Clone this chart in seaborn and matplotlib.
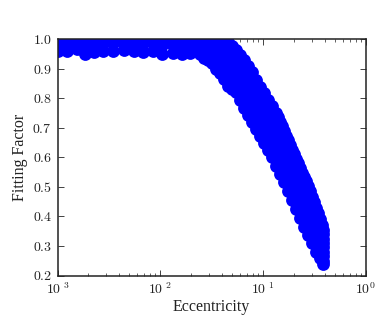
import matplotlib
matplotlib.use("Agg")
import matplotlib.pyplot as plt
import pandas as pd
import seaborn as sns
from matplotlib.ticker import FixedLocator, FixedFormatter, NullFormatter

# Flat part of the cloud: eccentricity and the lowest fitting factor at each
flat_ecc = [0.001, 0.00125, 0.00156, 0.00185, 0.00225, 0.0028, 0.0035, 0.0044, 0.0055,
            0.0068, 0.0085, 0.0105, 0.0132, 0.0165, 0.0195]
flat_low = [0.960, 0.958, 0.966, 0.950, 0.956, 0.959, 0.958, 0.963, 0.958,
            0.957, 0.959, 0.950, 0.952, 0.950, 0.953]
flat_mid = [0.985, 0.985, 0.985, 0.98, 0.98, 0.985, 0.985, 0.985, 0.985,
            0.985, 0.985, 0.98, 0.98, 0.98, 0.98]
flat_top = [1.0, 1.0, 1.0, 1.0, 1.0, 1.0, 1.0, 1.0, 1.0,
            1.0, 1.0, 1.0, 1.0, 1.0, 1.0]

# Falling part of the cloud: fitting factors read per eccentricity column
fall_ecc = [0.0223, 0.0267, 0.0319, 0.0382, 0.0457, 0.0547, 0.0655, 0.0783, 0.0938,
            0.1122, 0.134, 0.160, 0.192, 0.230, 0.275, 0.329, 0.389]
fall_ff = [
    [1.0, 0.98, 0.963],
    [1.0, 0.97, 0.936],
    [1.0, 0.97, 0.94, 0.919],
    [0.997, 0.965, 0.935, 0.905, 0.885],
    [0.99, 0.96, 0.93, 0.90, 0.87, 0.841],
    [0.963, 0.935, 0.905, 0.875, 0.845, 0.821],
    [0.929, 0.90, 0.87, 0.84, 0.81, 0.785, 0.767],
    [0.888, 0.86, 0.83, 0.80, 0.77, 0.745, 0.719],
    [0.838, 0.81, 0.78, 0.75, 0.72, 0.695, 0.672],
    [0.794, 0.765, 0.735, 0.705, 0.675, 0.65, 0.625],
    [0.75, 0.72, 0.69, 0.66, 0.63, 0.60, 0.57],
    [0.689, 0.66, 0.63, 0.60, 0.57, 0.54, 0.516],
    [0.625, 0.595, 0.565, 0.535, 0.505, 0.48, 0.455],
    [0.564, 0.535, 0.505, 0.475, 0.445, 0.42, 0.394],
    [0.503, 0.475, 0.445, 0.415, 0.385, 0.36, 0.337],
    [0.428, 0.40, 0.37, 0.34, 0.31, 0.28],
    [0.354, 0.34, 0.325, 0.31, 0.295, 0.28, 0.265, 0.25, 0.239],
]

# Columns read between the ones above
between_ecc = [0.0244, 0.0292, 0.0349, 0.0418, 0.05, 0.0599, 0.0716, 0.0857,
               0.1026, 0.1226, 0.1464, 0.175, 0.21, 0.2515, 0.3008, 0.3578]
between_ff = [
    [1.0, 0.95],
    [1.0, 0.96, 0.928],
    [1.0, 0.95, 0.90],
    [0.995, 0.93, 0.865],
    [0.978, 0.90, 0.83],
    [0.945, 0.87, 0.795],
    [0.91, 0.825, 0.742],
    [0.863, 0.78, 0.695],
    [0.816, 0.73, 0.648],
    [0.772, 0.685, 0.60],
    [0.72, 0.63, 0.543],
    [0.657, 0.57, 0.485],
    [0.595, 0.51, 0.425],
    [0.533, 0.45, 0.365],
    [0.466, 0.39, 0.31],
    [0.39, 0.32, 0.26],
]

# Extra points along the upper edge of the falling part
edge_ecc = [0.14, 0.153, 0.168, 0.184, 0.201, 0.22, 0.24, 0.263, 0.288, 0.314, 0.344, 0.376]
edge_ff = [0.735, 0.705, 0.672, 0.64, 0.61, 0.58, 0.548, 0.518, 0.485, 0.447, 0.41, 0.37]

x_ticks = [0.001, 0.01, 0.1, 1.0]
x_tick_labels = [r"$10^{\ 3}$", r"$10^{\ 2}$", r"$10^{\ 1}$", r"$10^{0}$"]
y_ticks = [0.2, 0.3, 0.4, 0.5, 0.6, 0.7, 0.8, 0.9, 1.0]
y_tick_labels = ["$0.2$", "$0.3$", "$0.4$", "$0.5$", "$0.6$", "$0.7$", "$0.8$", "$0.9$", "$1.0$"]

rows = []
for e, a, b, c in zip(flat_ecc, flat_low, flat_mid, flat_top):
    rows += [(e, a), (e, b), (e, c)]
for e, ffs in zip(fall_ecc, fall_ff):
    rows += [(e, f) for f in ffs]
for e, ffs in zip(between_ecc, between_ff):
    rows += [(e, f) for f in ffs]
rows += list(zip(edge_ecc, edge_ff))
df = pd.DataFrame(rows, columns=["Eccentricity", "Fitting Factor"])

sns.set_style("ticks")
plt.rcParams["mathtext.fontset"] = "cm"
plt.rcParams["font.family"] = ["Liberation Serif", "DejaVu Serif"]

W, H = 385, 316
fig = plt.figure(figsize=(W / 100, H / 100), dpi=100)
ax = fig.add_axes([57.5 / W, (H - 275.5) / H, 308 / W, 236.5 / H])

sns.scatterplot(data=df, x="Eccentricity", y="Fitting Factor", ax=ax, s=85, color="#0000ff",
                edgecolor="#0000ff", linewidth=0, legend=False, zorder=2)

ax.set_xscale("log")
ax.set_xlim(0.001, 1.0)
ax.set_ylim(0.2, 1.0)
ax.xaxis.set_major_locator(FixedLocator(x_ticks))
ax.xaxis.set_major_formatter(FixedFormatter(x_tick_labels))
ax.xaxis.set_minor_locator(matplotlib.ticker.LogLocator(base=10, subs=range(2, 10), numticks=12))
ax.xaxis.set_minor_formatter(NullFormatter())
ax.yaxis.set_major_locator(FixedLocator(y_ticks))
ax.yaxis.set_major_formatter(FixedFormatter(y_tick_labels))

ax.tick_params(which="major", direction="in", top=True, right=True, length=4, width=0.6,
               labelsize=10, colors="#222222", pad=4)
ax.tick_params(which="minor", direction="in", top=True, right=True, length=2, width=0.5,
               colors="#222222")
ax.tick_params(axis="x", which="major", pad=4)
for s in ax.spines.values():
    s.set_linewidth(1.1)
    s.set_color("#222222")
    s.set_zorder(5)

ax.set_xlabel("Eccentricity", fontsize=11.5, color="#222222")
ax.set_ylabel("Fitting Factor", fontsize=11.5, color="#222222")
ax.xaxis.set_label_coords(0.5, -0.10)
ax.yaxis.set_label_coords(-0.097, 0.5)

fig.savefig("out.png", dpi=100)
